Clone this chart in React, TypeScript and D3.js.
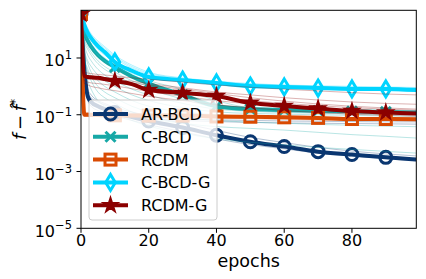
import * as d3 from "d3";

const epochs = [0, 1, 2, 3, 5, 7, 10, 15, 20, 30, 40, 50, 60, 70, 80, 90, 99];
const markEvery = [0, 10, 20, 30, 40, 50, 60, 70, 80, 90];

const xTicks = [0, 20, 40, 60, 80];
const yTickExps = [1, -1, -3, -5];

// bold (mean) curves, log10 values
const arBcd = [2.55, 0.6, -0.35, -0.55, -0.7, -0.8, -0.92, -1.08, -1.22, -1.45, -1.72, -1.95, -2.12, -2.3, -2.4, -2.5, -2.58];
const cBcd = [2.6, 1.9, 1.6, 1.4, 1.1, 0.9, 0.68, 0.35, 0.1, -0.3, -0.7, -0.8, -0.83, -0.86, -0.88, -0.9, -0.92];
const rcdm = [2.55, -1.0, -1.0, -1.01, -1.01, -1.02, -1.02, -1.03, -1.03, -1.03, -1.06, -1.07, -1.09, -1.11, -1.15, -1.15, -1.16];
const cBcdG = [2.6, 2.16, 1.88, 1.7, 1.42, 1.21, 0.86, 0.55, 0.33, 0.22, 0.12, 0.01, -0.02, -0.06, -0.09, -0.09, -0.13];
const rcdmG = [2.55, 0.37, 0.33, 0.32, 0.3, 0.26, 0.19, 0.08, -0.13, -0.23, -0.34, -0.58, -0.69, -0.78, -0.87, -0.92, -0.96];

// individual runs (thin lines), log10 values
const arBcdRuns = [
  [2.55, 0.4, -0.2, -0.4, -0.55, -0.65, -0.8, -0.95, -1.05, -1.15, -1.18, -1.2, -1.22, -1.23, -1.24, -1.25, -1.25],
  [2.55, 0.2, -0.5, -0.7, -0.85, -0.95, -1.05, -1.2, -1.35, -1.6, -1.85, -2.05, -2.2, -2.35, -2.45, -2.55, -2.62],
  [2.55, 0.8, -0.1, -0.3, -0.5, -0.6, -0.75, -0.9, -1.05, -1.3, -1.55, -1.8, -1.98, -2.15, -2.28, -2.38, -2.45],
  [2.55, 0.5, -0.3, -0.5, -0.65, -0.75, -0.9, -1.02, -1.12, -1.2, -1.24, -1.27, -1.29, -1.3, -1.31, -1.32, -1.33],
];
const cBcdRuns = [
  [2.6, 1.9, 1.6, 1.4, 1.1, 0.9, 0.7, 0.4, 0.2, -0.1, -0.5, -0.75, -0.8, -0.83, -0.85, -0.87, -0.88],
  [2.6, 1.7, 1.4, 1.2, 0.9, 0.7, 0.5, 0.2, 0.0, -0.3, -0.7, -0.82, -0.86, -0.88, -0.9, -0.92, -0.93],
  [2.6, 1.5, 1.1, 0.9, 0.6, 0.4, 0.2, -0.1, -0.3, -0.6, -0.8, -0.88, -0.92, -0.95, -0.97, -1.0, -1.0],
  [2.6, 1.2, 0.8, 0.5, 0.2, 0.0, -0.2, -0.5, -0.7, -0.9, -1.0, -1.05, -1.1, -1.12, -1.15, -1.17, -1.2],
  [2.6, 1.0, 0.5, 0.2, -0.2, -0.4, -0.6, -0.9, -1.1, -1.3, -1.42, -1.48, -1.54, -1.62, -1.7, -1.76, -1.82],
  [2.6, 0.8, 0.2, -0.1, -0.5, -0.7, -0.9, -1.2, -1.4, -1.65, -1.85, -1.97, -2.06, -2.15, -2.22, -2.29, -2.35],
  [2.6, 1.3, 0.9, 0.7, 0.4, 0.2, 0.0, -0.3, -0.5, -0.75, -0.9, -0.95, -0.98, -1.0, -1.02, -1.04, -1.05],
  [2.6, 1.6, 1.3, 1.1, 0.8, 0.6, 0.4, 0.1, -0.1, -0.45, -0.75, -0.85, -0.9, -0.92, -0.94, -0.96, -0.97],
  [2.6, 1.1, 0.6, 0.35, 0.0, -0.2, -0.4, -0.7, -0.9, -1.1, -1.2, -1.26, -1.3, -1.34, -1.37, -1.4, -1.42],
];
const rcdmRuns = [
  [2.55, -0.95, -0.96, -0.97, -0.98, -0.98, -0.99, -1.0, -1.0, -1.01, -1.03, -1.05, -1.07, -1.09, -1.11, -1.12, -1.13],
  [2.55, -1.05, -1.05, -1.06, -1.06, -1.07, -1.07, -1.08, -1.09, -1.1, -1.12, -1.14, -1.16, -1.18, -1.19, -1.2, -1.21],
  [2.55, -0.9, -0.92, -0.93, -0.94, -0.95, -0.96, -0.97, -0.98, -1.0, -1.02, -1.04, -1.06, -1.08, -1.1, -1.11, -1.12],
];
const cBcdGRuns = [
  [2.6, 2.3, 2.05, 1.85, 1.6, 1.4, 1.1, 0.75, 0.5, 0.3, 0.18, 0.1, 0.05, 0.02, 0.0, -0.02, -0.04],
  [2.6, 2.2, 1.95, 1.75, 1.5, 1.3, 1.0, 0.65, 0.42, 0.26, 0.15, 0.06, 0.02, -0.02, -0.05, -0.07, -0.08],
  [2.6, 2.1, 1.8, 1.6, 1.3, 1.1, 0.85, 0.55, 0.38, 0.22, 0.1, 0.03, -0.02, -0.05, -0.08, -0.1, -0.12],
  [2.6, 2.0, 1.7, 1.5, 1.2, 1.0, 0.75, 0.5, 0.33, 0.18, 0.08, 0.0, -0.04, -0.08, -0.1, -0.12, -0.15],
  [2.6, 1.9, 1.6, 1.4, 1.1, 0.9, 0.7, 0.45, 0.3, 0.15, 0.05, -0.03, -0.07, -0.1, -0.13, -0.15, -0.18],
  [2.6, 2.25, 2.0, 1.8, 1.55, 1.35, 1.05, 0.7, 0.46, 0.28, 0.16, 0.08, 0.04, 0.0, -0.03, -0.05, -0.06],
];
const rcdmGRuns = [
  [2.55, 0.5, 0.47, 0.45, 0.42, 0.4, 0.37, 0.3, 0.25, 0.15, 0.05, -0.03, -0.1, -0.16, -0.22, -0.27, -0.3],
  [2.55, 0.4, 0.37, 0.35, 0.32, 0.3, 0.25, 0.18, 0.1, -0.05, -0.2, -0.3, -0.4, -0.48, -0.55, -0.6, -0.63],
  [2.55, 0.3, 0.27, 0.25, 0.22, 0.2, 0.15, 0.05, -0.05, -0.2, -0.35, -0.5, -0.6, -0.68, -0.75, -0.8, -0.84],
  [2.55, 0.2, 0.15, 0.12, 0.1, 0.07, 0.02, -0.08, -0.18, -0.35, -0.5, -0.62, -0.72, -0.8, -0.86, -0.9, -0.93],
  [2.55, 0.1, 0.05, 0.0, -0.05, -0.1, -0.15, -0.25, -0.35, -0.5, -0.65, -0.75, -0.85, -0.92, -0.98, -1.02, -1.05],
  [2.55, 0.35, 0.3, 0.28, 0.25, 0.22, 0.18, 0.12, 0.05, -0.1, -0.25, -0.4, -0.52, -0.62, -0.7, -0.76, -0.8],
];

const series = [
  { name: "AR-BCD", color: "#0a3670", marker: "circle", mean: arBcd, runs: arBcdRuns },
  { name: "C-BCD", color: "#17a8a6", marker: "x", mean: cBcd, runs: cBcdRuns },
  { name: "RCDM", color: "#d94a02", marker: "square", mean: rcdm, runs: rcdmRuns },
  { name: "C-BCD-G", color: "#00d4ff", marker: "diamond", mean: cBcdG, runs: cBcdGRuns },
  { name: "RCDM-G", color: "#8b0000", marker: "star", mean: rcdmG, runs: rcdmGRuns },
];

const W = 426;
const H = 279;
const pad = { top: 10.3, right: 9.7, bottom: 50.7, left: 81 };
const FONT = "DejaVu Sans, sans-serif";

const starPath = d3.symbol(d3.symbolStar, 58)() || "";

function Marker({ type, color, cx, cy }: { type: string; color: string; cx: number; cy: number }) {
  const sw = 3;
  if (type === "circle")
    return <circle cx={cx} cy={cy} r={6} fill="none" stroke={color} strokeWidth={sw} />;
  if (type === "square")
    return <rect x={cx - 5.5} y={cy - 5.5} width={11} height={11} fill="none" stroke={color} strokeWidth={sw} />;
  if (type === "x")
    return (
      <path
        d={`M${cx - 5},${cy - 5}L${cx + 5},${cy + 5}M${cx - 5},${cy + 5}L${cx + 5},${cy - 5}`}
        stroke={color}
        strokeWidth={sw}
      />
    );
  if (type === "diamond")
    return (
      <path
        d={`M${cx},${cy - 8}L${cx + 4.8},${cy}L${cx},${cy + 8}L${cx - 4.8},${cy}Z`}
        fill="none"
        stroke={color}
        strokeWidth={sw}
      />
    );
  return (
    <path d={starPath} transform={`translate(${cx},${cy})`} fill={color} stroke={color} strokeWidth={2} strokeLinejoin="miter" />
  );
}

export default function App() {
  const innerW = W - pad.left - pad.right;
  const innerH = H - pad.top - pad.bottom;

  const x = d3.scaleLinear().domain([0, 99]).range([pad.left, pad.left + innerW]);
  const y = d3
    .scaleLog()
    .domain([1e-5, Math.pow(10, 2.68)])
    .range([pad.top + innerH, pad.top]);

  const line = d3
    .line<number>()
    .x((_, i) => x(epochs[i]))
    .y((v) => y(Math.pow(10, v)))
    .curve(d3.curveMonotoneX);

  const bottom = pad.top + innerH;
  const legend = { x: 89, y: 100, w: 128, h: 120, row: 22.8 };

  return (
    <svg width={W} height={H} style={{ position: "absolute", left: 0, top: 0 }} fontFamily={FONT}>
      <rect width={W} height={H} fill="#fff" />
      <defs>
        <clipPath id="plot">
          <rect x={pad.left} y={pad.top} width={innerW} height={innerH} />
        </clipPath>
      </defs>

      <g clipPath="url(#plot)">
        {series.map((s) => (
          <g key={s.name}>
            {s.runs.map((r, i) => (
              <path key={i} d={line(r) || ""} fill="none" stroke={s.color} strokeWidth={1} opacity={0.3} />
            ))}
            <path d={line(s.mean) || ""} fill="none" stroke={s.color} strokeWidth={4} strokeLinejoin="round" />
            {markEvery.map((e) => {
              const i = epochs.indexOf(e);
              return <Marker key={e} type={s.marker} color={s.color} cx={x(e)} cy={y(Math.pow(10, s.mean[i]))} />;
            })}
          </g>
        ))}
      </g>

      {/* legend */}
      <g>
        <rect
          x={legend.x}
          y={legend.y}
          width={legend.w}
          height={legend.h}
          rx={3}
          fill="#fff"
          fillOpacity={0.8}
          stroke="#cccccc"
          strokeWidth={1}
        />
        {series.map((s, i) => {
          const ly = legend.y + 14 + i * legend.row;
          return (
            <g key={s.name}>
              <line x1={93} x2={128} y1={ly} y2={ly} stroke={s.color} strokeWidth={4} />
              <Marker type={s.marker} color={s.color} cx={110.5} cy={ly} />
              <text x={141} y={ly + 6} fontSize={16} fill="#000">
                {s.name}
              </text>
            </g>
          );
        })}
      </g>

      {/* axes */}
      <rect x={pad.left} y={pad.top} width={innerW} height={innerH} fill="none" stroke="#000" strokeWidth={1} />

      {xTicks.map((t) => (
        <g key={t}>
          <line x1={x(t)} x2={x(t)} y1={bottom} y2={bottom + 4.5} stroke="#000" />
          <text x={x(t)} y={bottom + 18} textAnchor="middle" fontSize={16}>
            {t}
          </text>
        </g>
      ))}

      {yTickExps.map((e) => {
        const ty = y(Math.pow(10, e));
        return (
          <g key={e}>
            <line x1={pad.left - 4.5} x2={pad.left} y1={ty} y2={ty} stroke="#000" />
            <text x={72} y={ty + 8.5} textAnchor="end" fontSize={16}>
              10
              <tspan dy={-7.5} fontSize={11.5}>
                {e < 0 ? `\u2212${-e}` : `${e}`}
              </tspan>
            </text>
          </g>
        );
      })}

      <text x={pad.left + innerW / 2} y={267} textAnchor="middle" fontSize={17.5}>
        epochs
      </text>

      <text transform={`translate(26,${pad.top + innerH / 2}) rotate(-90)`} textAnchor="middle" fontSize={18}>
        <tspan fontStyle="italic">f</tspan>
        <tspan>{"\u2009\u2212\u2009"}</tspan>
        <tspan fontStyle="italic">{"f\u0302"}</tspan>
        <tspan dy={-7} fontSize={12.5}>
          *
        </tspan>
      </text>
    </svg>
  );
}
